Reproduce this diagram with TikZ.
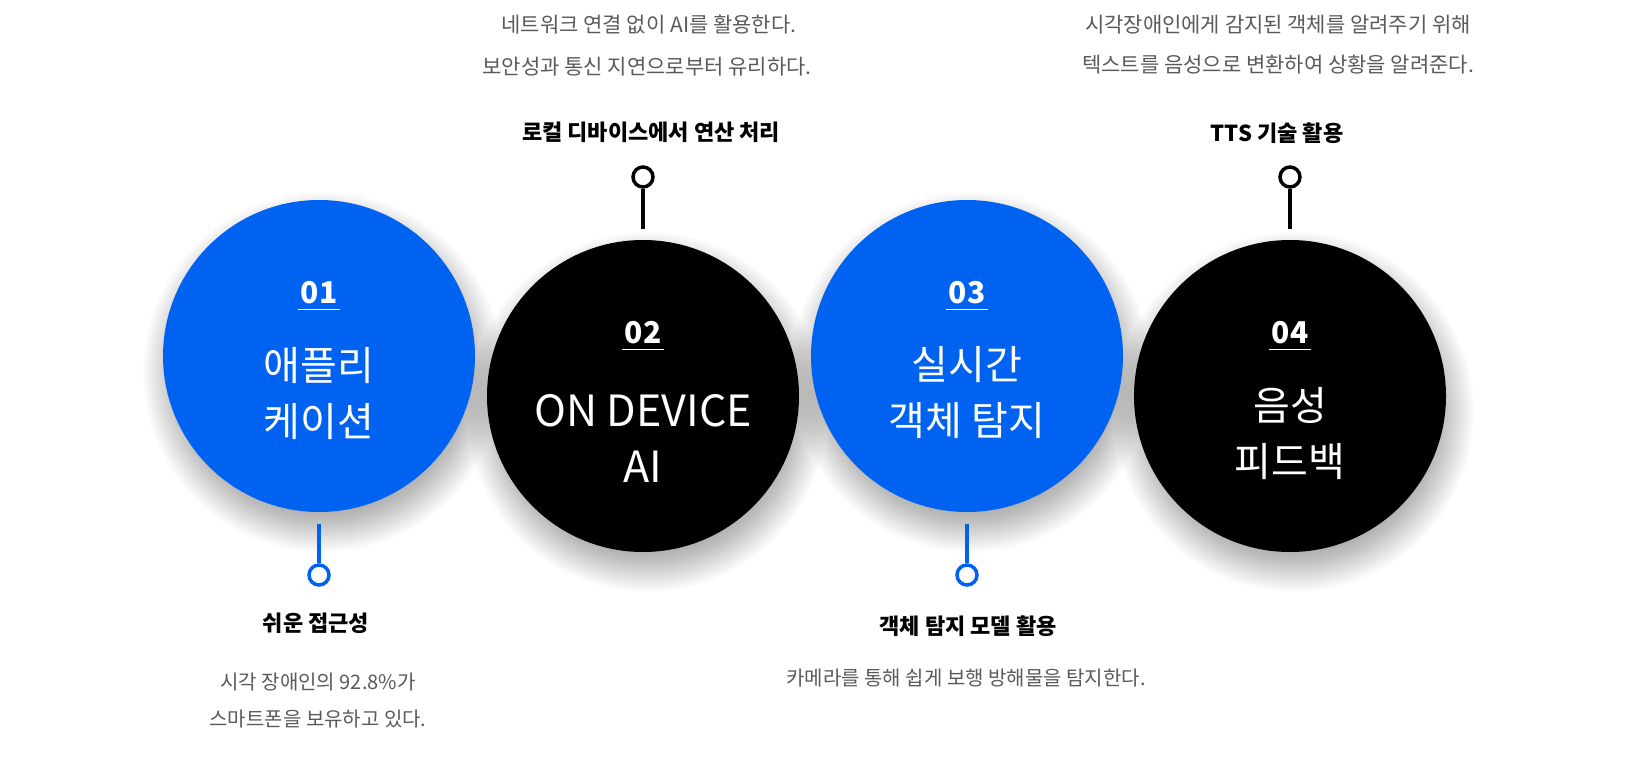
\documentclass[tikz,border=0pt]{standalone}
\usepackage{fontspec}
\setmainfont{Noto Sans CJK KR}
\usetikzlibrary{calc}
\pgfdeclarelayer{background}
\pgfsetlayers{background,main}
\definecolor{mainblue}{HTML}{0062F0}
\definecolor{desc}{HTML}{5A5A5A}
\begin{document}
\begin{tikzpicture}[x=1pt,y=-1pt,
  bubble/.style={circle, minimum size=312pt, inner sep=0pt},
  bluebub/.style={bubble, fill=mainblue},
  blackbub/.style={bubble, fill=black},
  shade step/.style={fill=black, opacity=0.014},
  num/.style={text=white, font=\fontsize{30}{32}\selectfont\bfseries, inner sep=0pt},
  big/.style={text=white, align=center, font=\fontsize{40}{56}\selectfont},
  bigen/.style={text=white, align=center, font=\fontsize{43}{56}\selectfont},
  ring/.style={circle, draw, line width=3.5pt, minimum size=20pt, inner sep=0pt, fill=white},
  stem/.style={line width=3.5pt},
  ttl/.style={font=\fontsize{22}{26}\selectfont\bfseries, text=black},
  dsc/.style={font=\fontsize{20}{24}\selectfont, text=desc},
  dsctop/.style={font=\fontsize{21}{24}\selectfont, text=desc},
  uline/.style={white, line width=1.8pt}
]
\useasboundingbox (0,0) rectangle (1634,758);

% circles
\node[bluebub]  (c1) at (319,356) {};
\node[blackbub] (c2) at (643,396) {};
\node[bluebub]  (c3) at (967,356) {};
\node[blackbub] (c4) at (1290,396) {};

% background and soft shadows
\begin{pgfonlayer}{background}
\fill[white] (0,0) rectangle (1634,758);
\foreach \c in {c1,c2,c3,c4}{
  \foreach \i in {0,...,20}{
    \fill[shade step] ($(\c.center)+(4,16)$) circle[radius={140+2*\i}];
  }
}
\end{pgfonlayer}

% numbers
\foreach \c/\t in {c1/01,c2/02,c3/03,c4/04}{
  \node[num] (n\c) at ($(\c.center)+(0,-63)$) {\t};
  \draw[uline] ($(n\c.south west)+(-3,5)$) -- ($(n\c.south east)+(3,5)$);
}

% main texts
\node[big] (t1) at ($(c1.center)+(0,38)$) {애플리\\케이션};
\node[bigen] (t2) at ($(c2.center)+(0,42)$) {ON DEVICE\\AI};
\node[big] (t3) at ($(c3.center)+(0,37)$) {실시간\\객체 탐지};
\node[big] (t4) at ($(c4.center)+(0,38)$) {음성\\피드백};

% bottom pins
\node[ring, draw=mainblue] (p1) at (319,575) {};
\node[ring, draw=mainblue] (p3) at (967,575) {};
\draw[stem, mainblue] ($(c1.south)+(0,12)$) -- (p1.north);
\draw[stem, mainblue] ($(c3.south)+(0,12)$) -- (p3.north);

% top pins
\node[ring, draw=black] (p2) at (643,177) {};
\node[ring, draw=black] (p4) at (1290,177) {};
\draw[stem, black] (p2.south) -- ($(c2.north)+(0,-11)$);
\draw[stem, black] (p4.south) -- ($(c4.north)+(0,-11)$);

% labels 01
\node[ttl] (h1) at (316,623) {쉬운 접근성};
\node[dsc] (d1a) at (318,682) {시각 장애인의 92.8\%가};
\node[dsc] (d1b) at (318,719) {스마트폰을 보유하고 있다.};

% labels 02
\node[ttl] (h2) at (651,132) {로컬 디바이스에서 연산 처리};
\node[dsctop] (d2a) at (649,25) {네트워크 연결 없이 AI를 활용한다.};
\node[dsctop] (d2b) at (647,67) {보안성과 통신 지연으로부터 유리하다.};

% labels 03
\node[ttl] (h3) at (968,626) {객체 탐지 모델 활용};
\node[dsc] (d3a) at (966,678) {카메라를 통해 쉽게 보행 방해물을 탐지한다.};

% labels 04
\node[ttl] (h4) at (1277,133) {TTS 기술 활용};
\node[dsctop] (d4a) at (1278,25) {시각장애인에게 감지된 객체를 알려주기 위해};
\node[dsctop] (d4b) at (1278,65) {텍스트를 음성으로 변환하여 상황을 알려준다.};
\end{tikzpicture}
\end{document}
